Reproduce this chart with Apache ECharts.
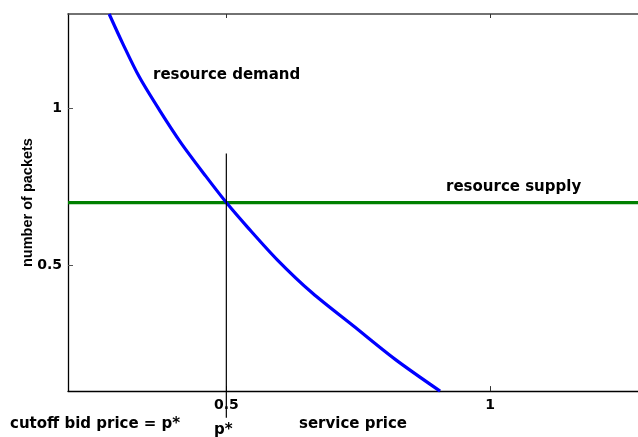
<!DOCTYPE html>
<html>
<head>
<meta charset="utf-8">
<script src="https://cdn.jsdelivr.net/npm/echarts@6/dist/echarts.min.js"></script>
<style>
  html, body { margin: 0; padding: 0; background: #fff; }
  #chart { width: 638px; height: 437px; }
</style>
</head>
<body>
<div id="chart"></div>
<script>
// Demand curve: number of packets requested at each service price
const demandPrice   = [0.278, 0.304, 0.335, 0.373, 0.414, 0.461, 0.500, 0.540, 0.597, 0.663, 0.741, 0.820, 0.905];
const demandPackets = [1.300, 1.205, 1.100, 0.995, 0.890, 0.784, 0.700, 0.622, 0.517, 0.412, 0.307, 0.201, 0.100];

// Flat resource supply
const supplyPrice   = [0.2, 1.28];
const supplyPackets = [0.7, 0.7];

// Cutoff bid price marker p*
const cutoffPrice   = [0.5, 0.5];
const cutoffPackets = [0.015, 0.856];

// Tick values on both axes
const xTicks = [0.5, 1];
const yTicks = [0.5, 1];

const boldFont = 'DejaVu Sans';
const pairs = (xs, ys) => xs.map((x, i) => [x, ys[i]]);

const chart = echarts.init(document.getElementById('chart'), null, { renderer: 'canvas' });

const axisText = { fontFamily: boldFont, fontWeight: 'bold', fontSize: 14, color: '#000' };

chart.setOption({
  animation: false,
  backgroundColor: '#fff',
  grid: { left: 68, right: 0, top: 14, bottom: 44, containLabel: false },
  xAxis: [
    {
      type: 'value', position: 'bottom', min: 0.2, max: 1.28,
      name: 'service price', nameLocation: 'middle', nameGap: 21,
      nameTextStyle: { fontFamily: boldFont, fontWeight: 'bold', fontSize: 15, color: '#000' },
      axisLine: { show: true, onZero: false, lineStyle: { color: '#000', width: 1.3 } },
      axisTick: { show: true, inside: true, length: 5, customValues: xTicks, lineStyle: { color: '#333' } },
      axisLabel: Object.assign({ customValues: xTicks, margin: 7 }, axisText),
      splitLine: { show: false }
    },
    {
      type: 'value', position: 'top', min: 0.2, max: 1.28,
      axisLine: { show: true, onZero: false, lineStyle: { color: '#444', width: 1.6 } },
      axisTick: { show: true, inside: true, length: 4, customValues: xTicks, lineStyle: { color: '#333' } },
      axisLabel: { show: false },
      splitLine: { show: false }
    }
  ],
  yAxis: {
    type: 'value', min: 0.1, max: 1.3,
    name: 'number of packets', nameLocation: 'middle', nameRotate: 90, nameGap: 33,
    nameMoveOverlap: false,
    nameTextStyle: { fontFamily: 'Liberation Sans', fontWeight: 'bold', fontSize: 14.5, color: '#000' },
    axisLine: { show: true, onZero: false, lineStyle: { color: '#000', width: 1.3 } },
    axisTick: { show: true, inside: true, length: 5, customValues: yTicks, lineStyle: { color: '#555' } },
    axisLabel: Object.assign({ customValues: yTicks, margin: 6 }, axisText),
    splitLine: { show: false }
  },
  series: [
    {
      name: 'resource supply', type: 'line', xAxisIndex: 0,
      data: pairs(supplyPrice, supplyPackets),
      showSymbol: false, lineStyle: { color: '#008000', width: 3.2 }, z: 2
    },
    {
      name: 'resource demand', type: 'line', xAxisIndex: 0,
      data: pairs(demandPrice, demandPackets),
      smooth: 0.3,
      showSymbol: false, lineStyle: { color: '#0000ff', width: 3.2 }, z: 3
    },
    {
      name: 'cutoff', type: 'line', xAxisIndex: 0, clip: false,
      data: pairs(cutoffPrice, cutoffPackets),
      showSymbol: false, lineStyle: { color: '#000', width: 1.2 }, z: 4
    }
  ],
  graphic: [
    { type: 'text', left: 153, top: 68, z: 10,
      style: { text: 'resource demand', font: 'bold 15px "DejaVu Sans"', fill: '#000' } },
    { type: 'text', left: 446, top: 180, z: 10,
      style: { text: 'resource supply', font: 'bold 15px "DejaVu Sans"', fill: '#000' } },
    { type: 'text', left: 10, top: 417, z: 10,
      style: { text: 'cutoff bid price = p*', font: 'bold 15px "DejaVu Sans"', fill: '#000' } },
    { type: 'text', left: 214, top: 423, z: 10,
      style: { text: 'p*', font: 'bold 15px "DejaVu Sans"', fill: '#000' } }
  ]
});
</script>
</body>
</html>
